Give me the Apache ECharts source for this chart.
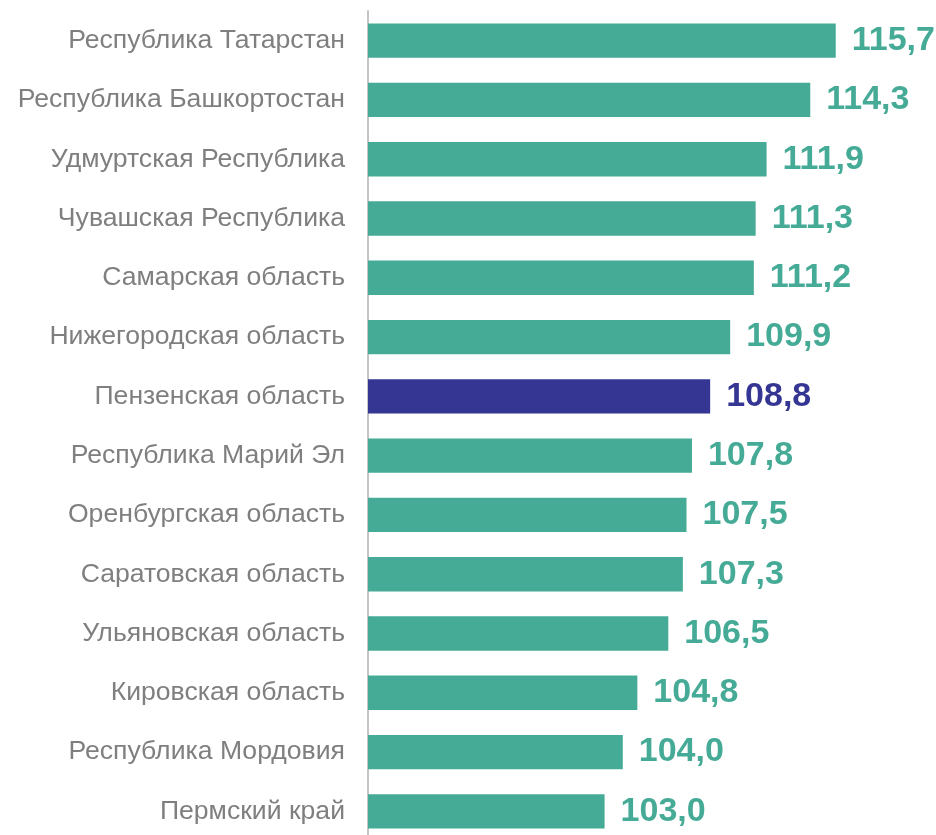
<!DOCTYPE html>
<html>
<head>
<meta charset="utf-8">
<script src="https://cdn.jsdelivr.net/npm/echarts@6/dist/echarts.min.js"></script>
<style>
  html, body { margin: 0; padding: 0; background: #fff; }
  #chart { width: 936px; height: 835px; }
</style>
</head>
<body>
<div id="chart"></div>
<script>
  // регионы сверху вниз
  var regions = [
    'Республика Татарстан',
    'Республика Башкортостан',
    'Удмуртская Республика',
    'Чувашская Республика',
    'Самарская область',
    'Нижегородская область',
    'Пензенская область',
    'Республика Марий Эл',
    'Оренбургская область',
    'Саратовская область',
    'Ульяновская область',
    'Кировская область',
    'Республика Мордовия',
    'Пермский край'
  ]
  var values = [115.7, 114.3, 111.9, 111.3, 111.2, 109.9, 108.8, 107.8, 107.5, 107.3, 106.5, 104.8, 104.0, 103.0]
  var highlight = 'Пензенская область'

  var teal = '#46ab96'
  var blue = '#353594'

  var chart = echarts.init(document.getElementById('chart'))
  var data = values.map(function (v, i) {
    var c = regions[i] === highlight ? blue : teal
    return {
      value: v,
      itemStyle: { color: c },
      label: { color: c }
    }
  })

  chart.setOption({
    animation: false,
    grid: { left: 368, top: 11, right: 22, bottom: -6, outerBoundsMode: 'none' },
    xAxis: {
      type: 'value',
      min: 90,
      max: 120,
      show: false
    },
    yAxis: {
      type: 'category',
      inverse: true,
      data: regions,
      axisLine: { show: true, lineStyle: { color: '#c4c4c4', width: 2 } },
      axisTick: { show: false },
      axisLabel: {
        color: '#7f7f7f',
        fontSize: 26.6,
        fontFamily: '"Liberation Sans", Arial, sans-serif',
        margin: 23
      }
    },
    series: [{
      type: 'bar',
      data: data,
      barCategoryGap: '42%',
      label: {
        show: true,
        position: 'right',
        distance: 16,
        fontSize: 34,
        fontWeight: 'bold',
        fontFamily: '"Liberation Sans", Arial, sans-serif',
        formatter: function (p) { return p.value.toFixed(1).replace('.', ',') }
      }
    }]
  })
</script>
</body>
</html>
